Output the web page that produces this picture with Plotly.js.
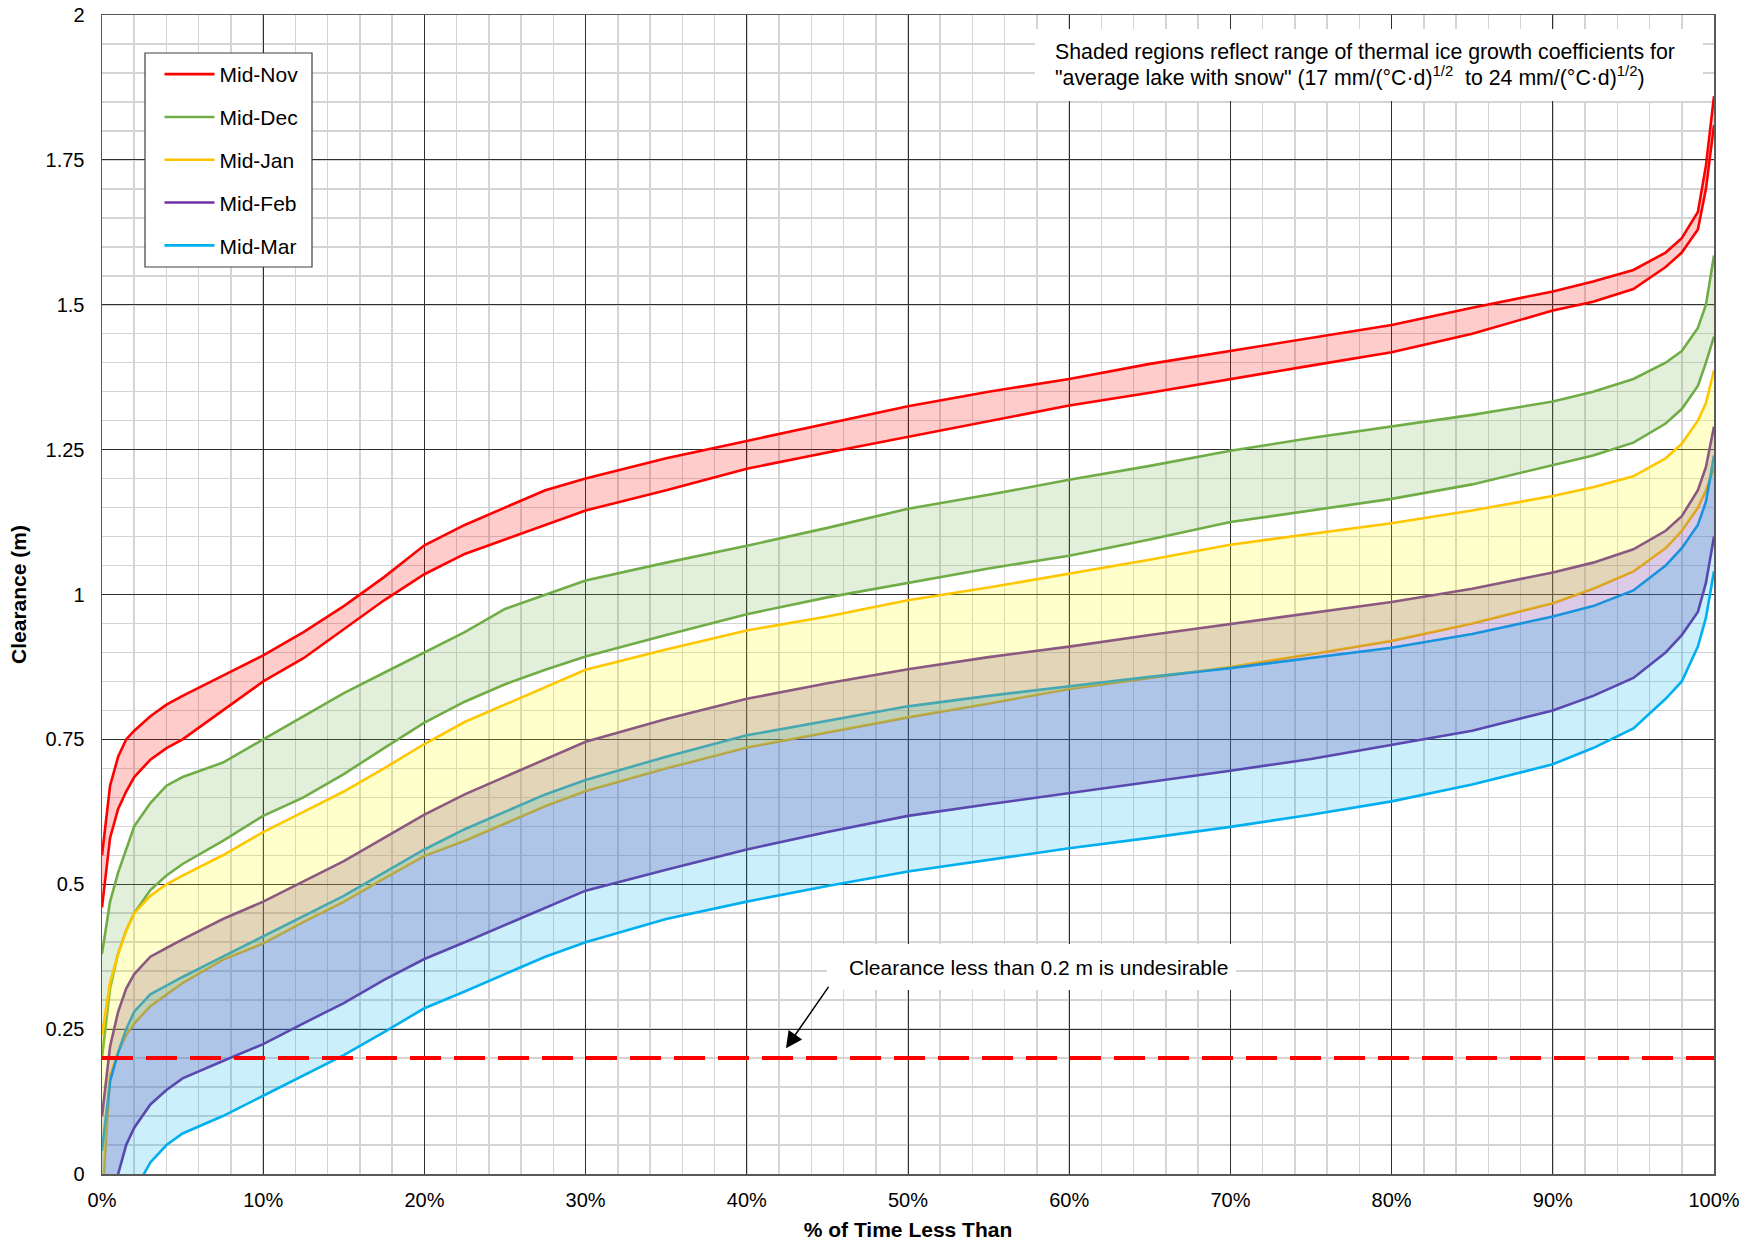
<!DOCTYPE html>
<html>
<head>
<meta charset="utf-8">
<script src="https://cdn.plot.ly/plotly-3.0.1.min.js"></script>
<style>
html,body{margin:0;padding:0;background:#fff;}
#chart{width:1756px;height:1243px;}
</style>
</head>
<body>
<div id="chart"></div>
<script>
// ---- Data ----
const pctTime = [0, 0.5, 1, 1.5, 2, 3, 4, 5, 7.5, 10, 12.5, 15, 17.5, 20, 22.5, 25, 27.5, 30, 35, 40, 45, 50, 55, 60, 65, 70, 75, 80, 85, 90, 92.5, 95, 97, 98, 99, 99.5, 100];

const novUpper = [0.55, 0.67, 0.72, 0.75, 0.765, 0.79, 0.81, 0.825, 0.86, 0.895, 0.935, 0.98, 1.03, 1.085, 1.12, 1.15, 1.18, 1.2, 1.235, 1.265, 1.295, 1.325, 1.35, 1.372, 1.398, 1.42, 1.442, 1.465, 1.495, 1.523, 1.54, 1.56, 1.59, 1.615, 1.66, 1.74, 1.86];
const novLower = [0.46, 0.58, 0.63, 0.66, 0.685, 0.715, 0.735, 0.75, 0.8, 0.85, 0.89, 0.94, 0.99, 1.035, 1.07, 1.095, 1.12, 1.145, 1.18, 1.217, 1.245, 1.272, 1.3, 1.326, 1.348, 1.372, 1.395, 1.418, 1.45, 1.49, 1.505, 1.527, 1.565, 1.59, 1.63, 1.7, 1.81];

const decUpper = [0.38, 0.47, 0.52, 0.56, 0.6, 0.64, 0.67, 0.685, 0.71, 0.75, 0.79, 0.83, 0.865, 0.9, 0.935, 0.975, 1.0, 1.024, 1.055, 1.084, 1.115, 1.148, 1.172, 1.198, 1.222, 1.248, 1.27, 1.29, 1.31, 1.333, 1.35, 1.372, 1.4, 1.42, 1.46, 1.5, 1.585];
const decLower = [0.2, 0.32, 0.38, 0.42, 0.45, 0.49, 0.515, 0.535, 0.575, 0.618, 0.65, 0.69, 0.735, 0.779, 0.815, 0.845, 0.87, 0.893, 0.93, 0.966, 0.995, 1.02, 1.045, 1.067, 1.095, 1.125, 1.145, 1.165, 1.19, 1.223, 1.24, 1.262, 1.295, 1.32, 1.36, 1.4, 1.445];

const janUpper = [0.24, 0.33, 0.38, 0.42, 0.45, 0.48, 0.5, 0.515, 0.55, 0.59, 0.625, 0.66, 0.7, 0.742, 0.78, 0.81, 0.84, 0.87, 0.905, 0.938, 0.962, 0.99, 1.012, 1.036, 1.06, 1.086, 1.105, 1.123, 1.145, 1.17, 1.185, 1.204, 1.235, 1.26, 1.3, 1.33, 1.387];
const janLower = [-0.05, 0.17, 0.21, 0.24, 0.26, 0.29, 0.31, 0.33, 0.37, 0.398, 0.435, 0.47, 0.51, 0.549, 0.575, 0.605, 0.635, 0.661, 0.7, 0.736, 0.762, 0.788, 0.812, 0.837, 0.856, 0.875, 0.897, 0.92, 0.95, 0.985, 1.01, 1.04, 1.08, 1.11, 1.15, 1.18, 1.22];

const febUpper = [0.1, 0.22, 0.28, 0.32, 0.345, 0.375, 0.39, 0.405, 0.44, 0.47, 0.505, 0.54, 0.58, 0.62, 0.655, 0.685, 0.715, 0.746, 0.785, 0.82, 0.847, 0.871, 0.892, 0.91, 0.93, 0.949, 0.967, 0.987, 1.01, 1.038, 1.055, 1.078, 1.11, 1.135, 1.18, 1.22, 1.29];
const febLower = [-0.15, -0.07, 0.0, 0.05, 0.08, 0.12, 0.145, 0.165, 0.195, 0.224, 0.26, 0.295, 0.335, 0.371, 0.4, 0.43, 0.46, 0.489, 0.525, 0.56, 0.59, 0.618, 0.638, 0.657, 0.677, 0.696, 0.716, 0.74, 0.765, 0.8, 0.825, 0.856, 0.9, 0.93, 0.97, 1.02, 1.1];

const marUpper = [0.04, 0.16, 0.21, 0.25, 0.28, 0.31, 0.325, 0.34, 0.375, 0.41, 0.445, 0.48, 0.52, 0.56, 0.595, 0.625, 0.655, 0.68, 0.72, 0.757, 0.782, 0.807, 0.825, 0.842, 0.858, 0.873, 0.89, 0.908, 0.932, 0.962, 0.98, 1.007, 1.05, 1.08, 1.12, 1.16, 1.24];
const marLower = [-0.2, -0.15, -0.1, -0.065, -0.03, 0.02, 0.05, 0.07, 0.1, 0.135, 0.17, 0.205, 0.245, 0.286, 0.315, 0.345, 0.375, 0.4, 0.44, 0.47, 0.497, 0.522, 0.542, 0.562, 0.58, 0.599, 0.62, 0.643, 0.672, 0.707, 0.735, 0.769, 0.82, 0.85, 0.91, 0.96, 1.04];

const seriesNames = ['Mid-Nov', 'Mid-Dec', 'Mid-Jan', 'Mid-Feb', 'Mid-Mar'];
const lineColors = ['#FF0000', '#70AD47', '#FFC000', '#7030A0', '#00B0F0'];
const fillColors = ['rgba(255,0,0,0.2)', 'rgba(112,173,71,0.2)', 'rgba(255,255,0,0.2)', 'rgba(112,48,160,0.25)', 'rgba(0,176,240,0.2)'];
const uppers = [novUpper, decUpper, janUpper, febUpper, marUpper];
const lowers = [novLower, decLower, janLower, febLower, marLower];

const yTickVals = [0, 0.25, 0.5, 0.75, 1, 1.25, 1.5, 1.75, 2];
const yTickText = ['0', '0.25', '0.5', '0.75', '1', '1.25', '1.5', '1.75', '2'];
const xTickVals = [0, 10, 20, 30, 40, 50, 60, 70, 80, 90, 100];
const xTickText = ['0%', '10%', '20%', '30%', '40%', '50%', '60%', '70%', '80%', '90%', '100%'];
const thresholdY = 0.2;

// ---- Traces ----
const FONT = 'Liberation Sans, Arial, sans-serif';
function fillTrace(i) {
  return {
    x: pctTime.concat(pctTime.slice().reverse()),
    y: uppers[i].concat(lowers[i].slice().reverse()),
    type: 'scatter', mode: 'lines', fill: 'toself',
    fillcolor: fillColors[i], line: {width: 0, color: 'rgba(0,0,0,0)'},
    hoverinfo: 'skip', showlegend: false
  };
}
const traces = [];
// Nov / Dec bands sit alone: fill beneath their lines
traces.push(fillTrace(0));
traces.push(fillTrace(1));
for (let i = 0; i < 5; i++) {
  traces.push({
    x: pctTime, y: uppers[i], type: 'scatter', mode: 'lines', name: seriesNames[i],
    legendgroup: seriesNames[i],
    line: {color: lineColors[i], width: 2.6}, showlegend: true
  });
  traces.push({
    x: pctTime, y: lowers[i], type: 'scatter', mode: 'lines', name: seriesNames[i],
    legendgroup: seriesNames[i],
    line: {color: lineColors[i], width: 2.6}, showlegend: false
  });
}
// overlapping bands drawn over the lines (as in the original)
traces.push(fillTrace(3));
traces.push(fillTrace(4));
traces.push(fillTrace(2));

// ---- Layout ----
const L = 102, R = 42, T = 15, B = 69, W = 1756, H = 1243;
const pw = W - L - R, ph = H - T - B;
const px = v => (v - L) / pw;
const py = v => (H - B - v) / ph;

const layout = {
  width: W, height: H,
  margin: {l: L, r: R, t: T, b: B},
  paper_bgcolor: '#ffffff', plot_bgcolor: '#ffffff',
  font: {family: FONT, size: 20, color: '#000000'},
  showlegend: true,
  legend: {
    x: px(159.5), y: py(54), xanchor: 'left', yanchor: 'top',
    bgcolor: 'rgba(0,0,0,0)', borderwidth: 0,
    font: {family: FONT, size: 21, color: '#000000'},
    tracegroupgap: 12.5, itemwidth: 50
  },
  xaxis: {
    range: [0, 100], tickmode: 'array', tickvals: xTickVals, ticktext: xTickText,
    showgrid: true, gridcolor: '#2e2e2e', gridwidth: 1,
    minor: {dtick: 2, showgrid: true, gridcolor: '#d4d4d4', gridwidth: 1.5, ticks: ''},
    showline: true, linecolor: '#595959', linewidth: 1.5, mirror: true,
    zeroline: false, ticks: '', ticklabelstandoff: 7,
    tickfont: {family: FONT, size: 20, color: '#000'},
    title: {text: '% of Time Less Than', font: {family: FONT, size: 21, color: '#000', weight: 'bold'}, standoff: 13}
  },
  yaxis: {
    range: [0, 2], tickmode: 'array', tickvals: yTickVals, ticktext: yTickText,
    showgrid: true, gridcolor: '#2e2e2e', gridwidth: 1,
    minor: {dtick: 0.05, showgrid: true, gridcolor: '#d4d4d4', gridwidth: 1.5, ticks: ''},
    showline: true, linecolor: '#595959', linewidth: 1.5, mirror: true,
    zeroline: false, ticks: '', ticklabelstandoff: 12,
    tickfont: {family: FONT, size: 20, color: '#000'},
    title: {text: 'Clearance (m)', font: {family: FONT, size: 21, color: '#000', weight: 'bold'}, standoff: 13}
  },
  shapes: [
    {type: 'line', xref: 'x', yref: 'y', x0: 0, x1: 100, y0: thresholdY, y1: thresholdY,
     line: {color: '#FF0000', width: 4, dash: '31px,13px'}, layer: 'above'},
    {type: 'rect', xref: 'paper', yref: 'paper', x0: px(1035), x1: px(1703), y0: py(101), y1: py(29),
     fillcolor: '#ffffff', line: {width: 0}, layer: 'above'},
    {type: 'rect', xref: 'paper', yref: 'paper', x0: px(827), x1: px(1236), y0: py(990), y1: py(944),
     fillcolor: '#ffffff', line: {width: 0}, layer: 'above'},
    {type: 'rect', xref: 'paper', yref: 'paper', x0: px(145), x1: px(312), y0: py(267), y1: py(53),
     fillcolor: '#ffffff', line: {width: 1.2, color: '#404040'}, layer: 'above'}
  ],
  annotations: [
    {xref: 'paper', yref: 'paper', x: px(1053), y: py(52.5), xanchor: 'left', yanchor: 'middle',
     text: 'Shaded regions reflect range of thermal ice growth coefficients for',
     showarrow: false, font: {family: FONT, size: 21.3, color: '#000'}},
    {xref: 'paper', yref: 'paper', x: px(1053), y: py(76.5), xanchor: 'left', yanchor: 'middle',
     text: '"average lake with snow" (17 mm/(°C·d)<sup>1/2</sup>&nbsp; to 24 mm/(°C·d)<sup>1/2</sup>)',
     showarrow: false, font: {family: FONT, size: 21.3, color: '#000'}},
    {xref: 'paper', yref: 'paper', x: px(847), y: py(967.5), xanchor: 'left', yanchor: 'middle',
     text: 'Clearance less than 0.2 m is undesirable',
     showarrow: false, font: {family: FONT, size: 21, color: '#000'}},
    {xref: 'x', yref: 'y', x: 42.43, y: 0.217, axref: 'x', ayref: 'y', ax: 45.35, ay: 0.334,
     text: ' ', showarrow: true, arrowhead: 2, arrowsize: 2.2, arrowwidth: 1.5, arrowcolor: '#000', standoff: 0}
  ]
};

Plotly.newPlot('chart', traces, layout, {displayModeBar: false, staticPlot: true});
</script>
</body>
</html>
